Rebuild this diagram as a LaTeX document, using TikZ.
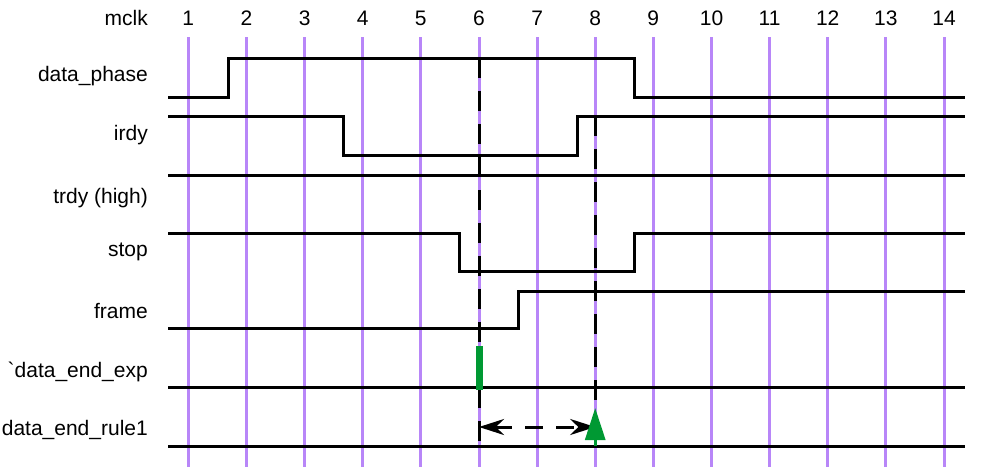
\documentclass[tikz,border=0pt]{standalone}
\usepackage{fontspec}
\setmainfont{Liberation Sans}
\usepackage{xcolor}
\usetikzlibrary{arrows.meta, positioning}

\definecolor{clkpurple}{RGB}{184,134,248}
\definecolor{markgreen}{RGB}{0,153,51}

\begin{document}
\begin{tikzpicture}[
    x=1pt, y=-1pt,
    every node/.style={font=\fontsize{21}{24}\selectfont, inner sep=0pt},
    signame/.style={anchor=base east},
    clknum/.style={anchor=base},
    clkline/.style={clkpurple, line width=3pt},
    wave/.style={black, line width=3pt, line join=miter},
    guide/.style={black, line width=3pt, dash pattern=on 20pt off 13pt},
    arrow/.style={line width=3pt, dash pattern=on 18pt off 13pt, {Stealth[length=25pt, width=16pt]}-{Stealth[length=25pt, width=16pt]}},
    greenbar/.style={markgreen, line width=7pt},
]
    \useasboundingbox (0,0) rectangle (981,474);

    % Clock grid
    \node[signame] (mclk) at (148,25.7) {mclk};
    \node[clknum] (c1) at (188.3,25.7) {1};
    \node[clknum] (c2) at (246.4,25.7) {2};
    \node[clknum] (c3) at (304.6,25.7) {3};
    \node[clknum] (c4) at (362.7,25.7) {4};
    \node[clknum] (c5) at (420.8,25.7) {5};
    \node[clknum] (c6) at (479.0,25.7) {6};
    \node[clknum] (c7) at (537.1,25.7) {7};
    \node[clknum] (c8) at (595.2,25.7) {8};
    \node[clknum] (c9) at (653.3,25.7) {9};
    \node[clknum] (c10) at (711.5,25.7) {10};
    \node[clknum] (c11) at (769.6,25.7) {11};
    \node[clknum] (c12) at (827.7,25.7) {12};
    \node[clknum] (c13) at (885.9,25.7) {13};
    \node[clknum] (c14) at (944.0,25.7) {14};
    \draw[clkline] (188.3,37) -- (188.3,467);
    \draw[clkline] (246.4,37) -- (246.4,467);
    \draw[clkline] (304.6,37) -- (304.6,467);
    \draw[clkline] (362.7,37) -- (362.7,467);
    \draw[clkline] (420.8,37) -- (420.8,467);
    \draw[clkline] (479.0,37) -- (479.0,467);
    \draw[clkline] (537.1,37) -- (537.1,467);
    \draw[clkline] (595.2,37) -- (595.2,467);
    \draw[clkline] (653.3,37) -- (653.3,467);
    \draw[clkline] (711.5,37) -- (711.5,467);
    \draw[clkline] (769.6,37) -- (769.6,467);
    \draw[clkline] (827.7,37) -- (827.7,467);
    \draw[clkline] (885.9,37) -- (885.9,467);
    \draw[clkline] (944.0,37) -- (944.0,467);

    % Signal names
    \node[signame] (phase) at (148,81) {data\_phase};
    \node[signame] (irdy) at (148,140) {irdy\ };
    \node[signame] (trdy) at (148,203) {trdy (high)};
    \node[signame] (stop) at (148,256.7) {stop};
    \node[signame] (frame) at (148,318) {frame};
    \node[signame] (endexp) at (148,377) {\textasciigrave data\_end\_exp};
    \node[signame] (rule) at (148,435) {data\_end\_rule1};

    % Waveforms
    \draw[wave] (168,97) -- (228,97) -- (228,58) -- (634,58) -- (634,97) -- (965,97);
    \draw[wave] (168,116) -- (343,116) -- (343,155) -- (577,155) -- (577,116) -- (965,116);
    \draw[wave] (168,175) -- (965,175);
    \draw[wave] (168,233) -- (459,233) -- (459,271) -- (634,271) -- (634,233) -- (965,233);
    \draw[wave] (168,328) -- (518,328) -- (518,291) -- (965,291);
    \draw[wave] (168,387) -- (965,387);
    \draw[wave] (168,446) -- (965,446);

    % Markers
    \draw[guide] (479,58) -- (479,446);
    \draw[guide] (595.2,116) -- (595.2,446);
    \draw[greenbar] (479,346) -- (479,390);
    \coordinate (start) at (479,427);
    \coordinate (check) at (595.2,427);
    \draw[arrow] (start) -- (check);
    \coordinate (rulebase) at (595.2,446);
    \coordinate (ruletip) at (595.2,408);
    \draw[markgreen, line width=3pt, -{Triangle[length=32pt, width=20pt]}] (rulebase) -- (ruletip);
\end{tikzpicture}
\end{document}
